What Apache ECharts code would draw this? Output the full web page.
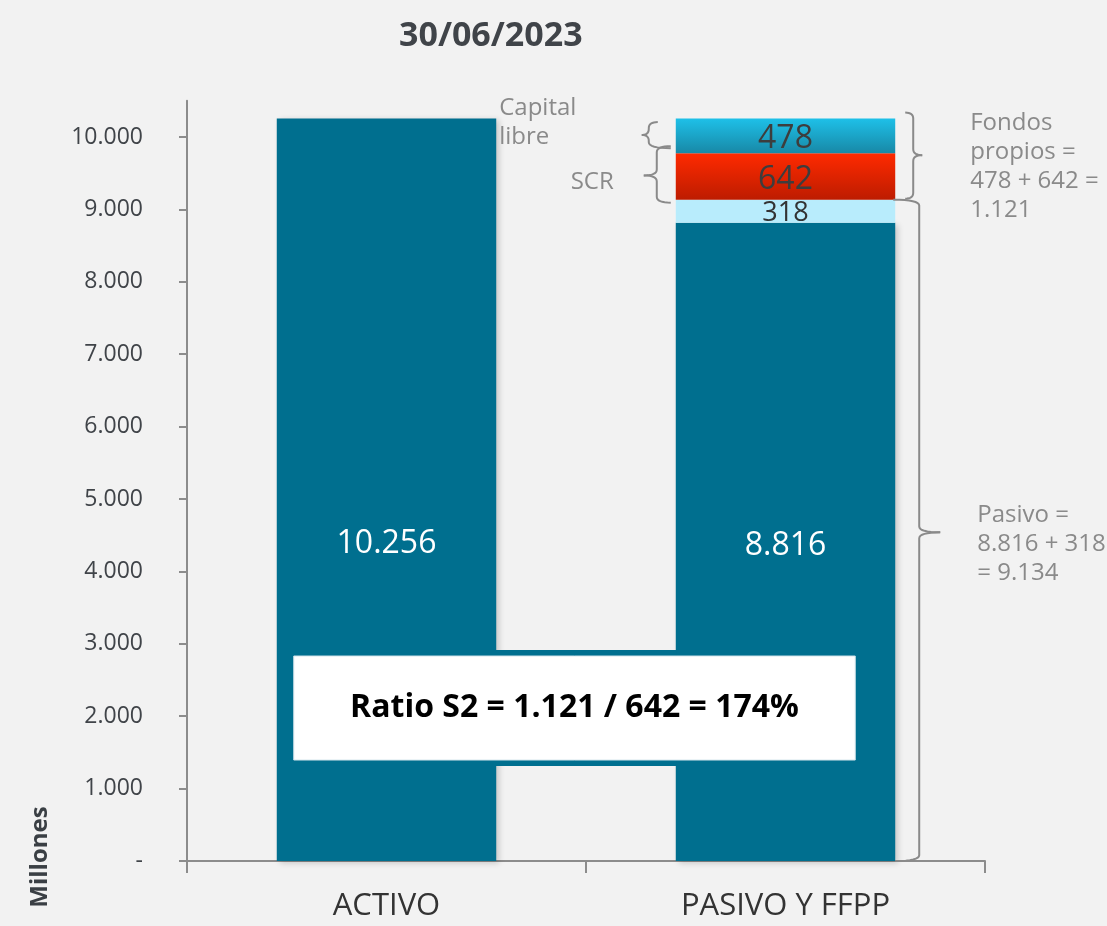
<!DOCTYPE html>
<html>
<head>
<meta charset="utf-8">
<script src="https://cdn.jsdelivr.net/npm/echarts@6/dist/echarts.min.js"></script>
<style>
html,body{margin:0;padding:0;background:#f2f2f2;}
#main{width:1107px;height:926px;}
</style>
</head>
<body>
<div id="main"></div>
<script>
// ---- data ----
const categories = ['ACTIVO', 'PASIVO Y FFPP'];
const baseValues = [10256, 8816];      // activo / pasivo base
const extraValues = [null, 318];       // resto pasivo
const scrValues = [null, 642];         // SCR
const freeCapitalValues = [null, 478]; // capital libre
const yMax = 10500;
const yInterval = 1000;
const titleText = '30/06/2023';
const axisName = 'Millones';
const noteCapital = 'Capital\nlibre';
const noteSCR = 'SCR';
const noteFondos = 'Fondos\npropios =\n478 + 642 =\n1.121';
const notePasivo = 'Pasivo =\n8.816 + 318\n= 9.134';
const ratioText = 'Ratio S2 = 1.121 / 642 = 174%';

function fmt(v) {
  if (v === 0) return '-';
  return String(Math.round(v)).replace(/\B(?=(\d{3})+(?!\d))/g, '.');
}

const chart = echarts.init(document.getElementById('main'));
const FONT = '"Open Sans", sans-serif';
const gray = '#8a8a8a';

chart.setOption({
  backgroundColor: '#f2f2f2',
  animation: false,
  title: {
    text: titleText, left: 394, top: 14,
    textStyle: { fontFamily: FONT, fontWeight: 'bold', fontSize: 34, color: '#404449' }
  },
  grid: { left: 187, right: 122, top: 100.8, bottom: 65 },
  xAxis: {
    type: 'category', data: categories,
    axisLine: { lineStyle: { color: '#8c8c8c', width: 2 } },
    axisTick: { show: true, length: 12, lineStyle: { color: '#8c8c8c', width: 2 } },
    axisLabel: { margin: 30, fontFamily: FONT, fontSize: 31, color: '#333' }
  },
  yAxis: {
    type: 'value', min: 0, max: yMax, interval: yInterval,
    splitLine: { show: false },
    axisLine: { show: true, lineStyle: { color: '#8c8c8c', width: 2 } },
    axisTick: { show: true, length: 8, lineStyle: { color: '#8c8c8c', width: 2 } },
    axisLabel: { margin: 44, showMaxLabel: false, fontFamily: FONT, fontSize: 23, color: '#404449', formatter: fmt }
  },
  series: [
    {
      name: 'base', type: 'bar', stack: 't', barWidth: '55%',
      data: baseValues.map((v, i) => i === 0
        ? { value: v, label: { position: ['50%', '56.8%'], align: 'center', verticalAlign: 'middle' } }
        : v),
      itemStyle: { color: '#006f8f', shadowColor: 'rgba(0,0,0,0.18)', shadowBlur: 6, shadowOffsetX: 3, shadowOffsetY: 2 },
      label: { show: true, position: 'inside', offset: [0, 4], color: '#fff', fontFamily: FONT, fontSize: 32, formatter: p => fmt(p.value) }
    },
    {
      name: 'extra', type: 'bar', stack: 't', data: extraValues,
      itemStyle: { color: '#b8ecfc' },
      label: { show: true, position: 'inside', offset: [0, 2], color: '#333', fontFamily: FONT, fontSize: 27, formatter: p => fmt(p.value) }
    },
    {
      name: 'scr', type: 'bar', stack: 't', data: scrValues,
      itemStyle: { color: new echarts.graphic.LinearGradient(0, 0, 0, 1, [{ offset: 0, color: '#ff2a00' }, { offset: 1, color: '#bd1c00' }]) },
      label: { show: true, position: 'inside', offset: [0, 3], color: '#3d3d3d', fontFamily: FONT, fontSize: 32, formatter: p => fmt(p.value) }
    },
    {
      name: 'libre', type: 'bar', stack: 't', data: freeCapitalValues,
      itemStyle: { color: new echarts.graphic.LinearGradient(0, 0, 0, 1, [{ offset: 0, color: '#1ec0e8' }, { offset: 1, color: '#1888a6' }]) },
      label: { show: true, position: 'inside', offset: [0, 3], color: '#3d3d3d', fontFamily: FONT, fontSize: 32, formatter: p => fmt(p.value) }
    }
  ]
});

// ---- annotations positioned from the axes ----
const py = v => chart.convertToPixel({ yAxisIndex: 0 }, v);
function barRect(si, di) {
  const l = chart.getModel().getSeriesByIndex(si).getData().getItemLayout(di);
  return { left: Math.min(l.x, l.x + l.width), right: Math.max(l.x, l.x + l.width) };
}
const b1 = barRect(0, 0), b2 = barRect(0, 1);
const vExtraTop = baseValues[1] + extraValues[1];
const vScrTop = vExtraTop + scrValues[1];
const vTop = vScrTop + freeCapitalValues[1];

function quad(p0, c, p1, out) {
  for (let i = 1; i <= 8; i++) {
    const t = i / 8, u = 1 - t;
    out.push([u * u * p0[0] + 2 * u * t * c[0] + t * t * p1[0], u * u * p0[1] + 2 * u * t * c[1] + t * t * p1[1]]);
  }
}
// brace: spine at x, dir -1 tip points left, +1 tip points right; returns two polylines
function brace(x, y1, y2, ym, w1, w2, d, dir) {
  const r = Math.min(6, (ym - y1) / 2, (y2 - ym) / 2);
  const a1 = x - dir * w1, a2 = x - dir * w2, t = x + dir * d;
  const up = [[a1, y1]];
  quad([a1, y1], [x, y1], [x, y1 + r], up);
  up.push([x, ym - r]);
  quad([x, ym - r], [x, ym], [t, ym], up);
  const dn = [[t, ym]];
  quad([t, ym], [x, ym], [x, ym + r], dn);
  dn.push([x, y2 - r]);
  quad([x, y2 - r], [x, y2], [a2, y2], dn);
  return [up, dn].map(pts => ({ type: 'polyline', z: 50, shape: { points: pts }, style: { fill: null, stroke: gray, lineWidth: 2 } }));
}
function note(text, x, y, align, vAlign) {
  return { type: 'text', z: 50, x: x, y: y,
    style: { text: text, fill: gray, font: '24px "Open Sans", sans-serif', textAlign: align, textVerticalAlign: vAlign, lineHeight: 29 } };
}

const yTop = py(vTop), yScrTop = py(vScrTop), yExtraTop = py(vExtraTop), y0 = py(0);
const boxTop = py(2831), boxBottom = py(1395);
const graphics = [
  // teal connector band behind the ratio box
  { type: 'rect', z: 40, shape: { x: b1.right - 1, y: boxTop - 6, width: b2.left - b1.right + 2, height: boxBottom - boxTop + 12 }, style: { fill: '#006f8f' } },
  { type: 'rect', z: 41, shape: { x: b1.left + 17, y: boxTop, width: (b2.right - 40) - (b1.left + 17), height: boxBottom - boxTop }, style: { fill: '#ffffff', stroke: '#d6e6ec', lineWidth: 1 } },
  { type: 'text', z: 42, x: ((b1.left + 17) + (b2.right - 40)) / 2, y: (boxTop + boxBottom) / 2,
    style: { text: ratioText, fill: '#000', font: 'bold 32px "Open Sans", sans-serif', textAlign: 'center', textVerticalAlign: 'middle' } },
  // braces
  ...brace(b2.left - 27, yTop + 3.5, yScrTop - 5, (yTop + yScrTop) / 2 - 1, 9, 22, 7, -1),
  ...brace(b2.left - 19, yScrTop - 7, yExtraTop + 3, (yScrTop + yExtraTop) / 2 - 1, 14, 14, 13, -1),
  ...brace(b2.right + 18, yTop - 6, yExtraTop - 1, (yTop + yExtraTop) / 2 - 4, 8, 8, 9, 1),
  ...brace(b2.right + 24, yExtraTop, y0, (yExtraTop + y0) / 2 + 2, 26, 24, 21, 1),
  // notes
  note(noteCapital, b1.right + 3, yTop - 25, 'left', 'top'),
  note(noteSCR, b2.left - 62, (yScrTop + yExtraTop) / 2 + 6, 'right', 'middle'),
  note(noteFondos, b2.right + 75, yTop - 10, 'left', 'top'),
  note(notePasivo, b2.right + 82, (yExtraTop + y0) / 2 - 30, 'left', 'top'),
  // axis name
  { type: 'text', z: 50, x: 40, y: 857, rotation: Math.PI / 2,
    style: { text: axisName, fill: '#3a3f44', font: 'bold 24px "Open Sans", sans-serif', textAlign: 'center', textVerticalAlign: 'middle' } }
];
chart.setOption({ graphic: graphics });
</script>
</body>
</html>
